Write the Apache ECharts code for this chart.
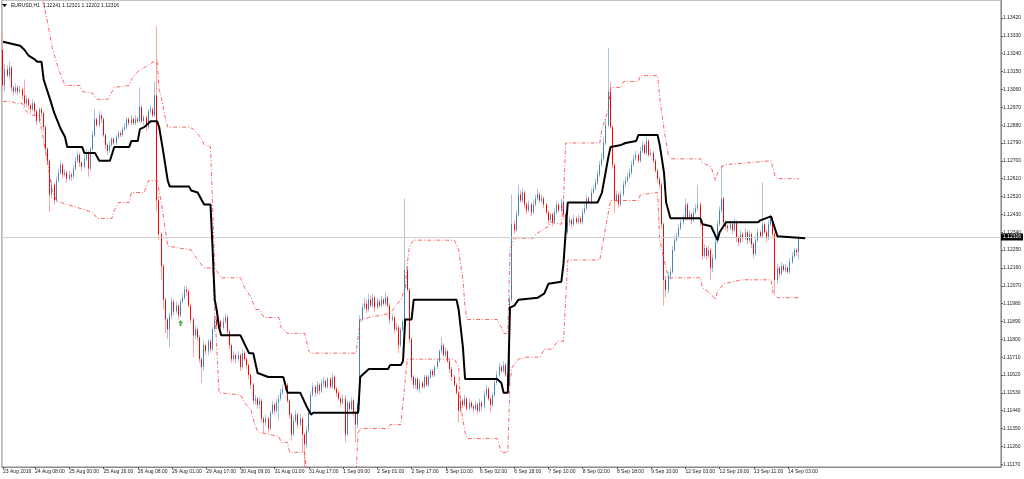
<!DOCTYPE html>
<html><head><meta charset="utf-8">
<script src="https://cdn.jsdelivr.net/npm/echarts@6/dist/echarts.min.js"></script>
<style>html,body{margin:0;padding:0;background:#fff}#c{width:1024px;height:479px}</style>
</head><body><div id="c"></div>
<script>
// ---- EURUSD H1 candles ----
const opens=[
1.1326,1.1308,1.1316,1.1313,1.1317,1.1307,1.1305,1.1307,1.1305,1.1306,
1.1303,1.1299,1.1301,1.1298,1.1296,1.1299,1.1295,1.1290,1.1296,1.1294,
1.1287,1.1276,1.1270,1.1253,1.1258,1.1250,1.1260,1.1264,1.1268,1.1263,
1.1264,1.1261,1.1263,1.1262,1.1266,1.1270,1.1273,1.1269,1.1267,1.1271,
1.1274,1.1266,1.1276,1.1283,1.1291,1.1288,1.1293,1.1291,1.1283,1.1278,
1.1275,1.1278,1.1281,1.1279,1.1282,1.1284,1.1283,1.1286,1.1287,1.1291,
1.1289,1.1291,1.1289,1.1291,1.1290,1.1297,1.1290,1.1292,1.1287,1.1295,
1.1296,1.1293,1.1303,1.1250,1.1233,1.1217,1.1200,1.1190,1.1185,1.1192,
1.1199,1.1194,1.1197,1.1192,1.1199,1.1201,1.1205,1.1204,1.1197,1.1190,
1.1182,1.1185,1.1181,1.1170,1.1166,1.1177,1.1174,1.1179,1.1175,1.1185,
1.1190,1.1187,1.1189,1.1186,1.1189,1.1191,1.1184,1.1177,1.1170,1.1172,
1.1170,1.1172,1.1166,1.1173,1.1170,1.1167,1.1162,1.1157,1.1149,1.1150,
1.1147,1.1149,1.1140,1.1138,1.1140,1.1135,1.1143,1.1147,1.1144,1.1148,
1.1150,1.1153,1.1155,1.1157,1.1149,1.1142,1.1132,1.1139,1.1142,1.1137,
1.1140,1.1132,1.1127,1.1134,1.1143,1.1152,1.1156,1.1153,1.1157,1.1154,
1.1158,1.1159,1.1156,1.1160,1.1156,1.1161,1.1155,1.1153,1.1150,1.1148,
1.1150,1.1132,1.1148,1.1145,1.1149,1.1143,1.1137,1.1147,1.1190,1.1196,
1.1198,1.1195,1.1200,1.1197,1.1201,1.1196,1.1199,1.1197,1.1200,1.1198,
1.1201,1.1197,1.1190,1.1191,1.1185,1.1186,1.1177,1.1185,1.1189,1.1215,
1.1205,1.1180,1.1161,1.1157,1.1160,1.1155,1.1158,1.1156,1.1161,1.1157,
1.1161,1.1164,1.1162,1.1166,1.1169,1.1174,1.1177,1.1172,1.1174,1.1169,
1.1165,1.1161,1.1157,1.1153,1.1144,1.1149,1.1147,1.1150,1.1145,1.1148,
1.1146,1.1145,1.1147,1.1144,1.1148,1.1146,1.1152,1.1155,1.1150,1.1147,
1.1152,1.1158,1.1162,1.1166,1.1164,1.1167,1.1162,1.1157,1.1200,1.1238,
1.1235,1.1243,1.1253,1.1250,1.1254,1.1248,1.1245,1.1248,1.1244,1.1248,
1.1251,1.1253,1.1250,1.1251,1.1248,1.1244,1.1240,1.1243,1.1239,1.1244,
1.1248,1.1245,1.1249,1.1243,1.1234,1.1239,1.1240,1.1238,1.1241,1.1239,
1.1241,1.1239,1.1244,1.1246,1.1251,1.1249,1.1254,1.1256,1.1259,1.1263,
1.1268,1.1271,1.1279,1.1288,1.1305,1.1287,1.1268,1.1250,1.1253,1.1248,
1.1253,1.1258,1.1260,1.1262,1.1264,1.1268,1.1271,1.1273,1.1270,1.1275,
1.1278,1.1274,1.1280,1.1273,1.1274,1.1270,1.1265,1.1261,1.1258,1.1238,
1.1210,1.1205,1.1212,1.1214,1.1225,1.1230,1.1232,1.1236,1.1239,1.1241,
1.1248,1.1241,1.1243,1.1240,1.1244,1.1246,1.1248,1.1239,1.1222,1.1226,
1.1222,1.1225,1.1216,1.1221,1.1229,1.1238,1.1245,1.1251,1.1239,1.1237,
1.1236,1.1238,1.1235,1.1239,1.1231,1.1229,1.1233,1.1231,1.1234,1.1230,
1.1233,1.1228,1.1223,1.1230,1.1234,1.1232,1.1238,1.1234,1.1231,1.1238,
1.1241,1.1233,1.1210,1.1216,1.1213,1.1217,1.1215,1.1216,1.1214,1.1219,
1.1222,1.1225,1.12241];
const closes=[
1.1308,1.1316,1.1313,1.1317,1.1307,1.1305,1.1307,1.1305,1.1306,1.1303,
1.1299,1.1301,1.1298,1.1296,1.1299,1.1295,1.1290,1.1296,1.1294,1.1287,
1.1276,1.1270,1.1253,1.1258,1.1250,1.1260,1.1264,1.1268,1.1263,1.1264,
1.1261,1.1263,1.1262,1.1266,1.1270,1.1273,1.1269,1.1267,1.1271,1.1274,
1.1266,1.1276,1.1283,1.1291,1.1288,1.1293,1.1291,1.1283,1.1278,1.1275,
1.1278,1.1281,1.1279,1.1282,1.1284,1.1283,1.1286,1.1287,1.1291,1.1289,
1.1291,1.1289,1.1291,1.1290,1.1297,1.1290,1.1292,1.1287,1.1295,1.1296,
1.1293,1.1303,1.1250,1.1233,1.1217,1.1200,1.1190,1.1185,1.1192,1.1199,
1.1194,1.1197,1.1192,1.1199,1.1201,1.1205,1.1204,1.1197,1.1190,1.1182,
1.1185,1.1181,1.1170,1.1166,1.1177,1.1174,1.1179,1.1175,1.1185,1.1190,
1.1187,1.1189,1.1186,1.1189,1.1191,1.1184,1.1177,1.1170,1.1172,1.1170,
1.1172,1.1166,1.1173,1.1170,1.1167,1.1162,1.1157,1.1149,1.1150,1.1147,
1.1149,1.1140,1.1138,1.1140,1.1135,1.1143,1.1147,1.1144,1.1148,1.1150,
1.1153,1.1155,1.1157,1.1149,1.1142,1.1132,1.1139,1.1142,1.1137,1.1140,
1.1132,1.1127,1.1134,1.1143,1.1152,1.1156,1.1153,1.1157,1.1154,1.1158,
1.1159,1.1156,1.1160,1.1156,1.1161,1.1155,1.1153,1.1150,1.1148,1.1150,
1.1132,1.1148,1.1145,1.1149,1.1143,1.1137,1.1147,1.1190,1.1196,1.1198,
1.1195,1.1200,1.1197,1.1201,1.1196,1.1199,1.1197,1.1200,1.1198,1.1201,
1.1197,1.1190,1.1191,1.1185,1.1186,1.1177,1.1185,1.1189,1.1215,1.1205,
1.1180,1.1161,1.1157,1.1160,1.1155,1.1158,1.1156,1.1161,1.1157,1.1161,
1.1164,1.1162,1.1166,1.1169,1.1174,1.1177,1.1172,1.1174,1.1169,1.1165,
1.1161,1.1157,1.1153,1.1144,1.1149,1.1147,1.1150,1.1145,1.1148,1.1146,
1.1145,1.1147,1.1144,1.1148,1.1146,1.1152,1.1155,1.1150,1.1147,1.1152,
1.1158,1.1162,1.1166,1.1164,1.1167,1.1162,1.1157,1.1200,1.1238,1.1235,
1.1243,1.1253,1.1250,1.1254,1.1248,1.1245,1.1248,1.1244,1.1248,1.1251,
1.1253,1.1250,1.1251,1.1248,1.1244,1.1240,1.1243,1.1239,1.1244,1.1248,
1.1245,1.1249,1.1243,1.1234,1.1239,1.1240,1.1238,1.1241,1.1239,1.1241,
1.1239,1.1244,1.1246,1.1251,1.1249,1.1254,1.1256,1.1259,1.1263,1.1268,
1.1271,1.1279,1.1288,1.1305,1.1287,1.1268,1.1250,1.1253,1.1248,1.1253,
1.1258,1.1260,1.1262,1.1264,1.1268,1.1271,1.1273,1.1270,1.1275,1.1278,
1.1274,1.1280,1.1273,1.1274,1.1270,1.1265,1.1261,1.1258,1.1238,1.1210,
1.1205,1.1212,1.1214,1.1225,1.1230,1.1232,1.1236,1.1239,1.1241,1.1248,
1.1241,1.1243,1.1240,1.1244,1.1246,1.1248,1.1239,1.1222,1.1226,1.1222,
1.1225,1.1216,1.1221,1.1229,1.1238,1.1245,1.1251,1.1239,1.1237,1.1236,
1.1238,1.1235,1.1239,1.1231,1.1229,1.1233,1.1231,1.1234,1.1230,1.1233,
1.1228,1.1223,1.1230,1.1234,1.1232,1.1238,1.1234,1.1231,1.1238,1.1241,
1.1233,1.1210,1.1216,1.1213,1.1217,1.1215,1.1216,1.1214,1.1219,1.1222,
1.1225,1.1224,1.12316];
const highs=[
1.1336,1.1319,1.1318,1.1320,1.1318,1.1308,1.1309,1.1308,1.1308,1.1307,
1.1311,1.1303,1.1302,1.1299,1.1301,1.1300,1.1296,1.1297,1.1297,1.1295,
1.1288,1.1277,1.1271,1.1260,1.1259,1.1262,1.1266,1.1270,1.1269,1.1266,
1.1265,1.1265,1.1264,1.1268,1.1272,1.1275,1.1274,1.1270,1.1273,1.1276,
1.1275,1.1277,1.1285,1.1296,1.1292,1.1295,1.1294,1.1292,1.1284,1.1279,
1.1280,1.1282,1.1282,1.1283,1.1285,1.1285,1.1287,1.1289,1.1292,1.1292,
1.1293,1.1292,1.1293,1.1292,1.1307,1.1298,1.1293,1.1293,1.1296,1.1298,
1.1297,1.1310,1.1338,1.1252,1.1234,1.1218,1.1201,1.1191,1.1193,1.1201,
1.1200,1.1199,1.1198,1.1200,1.1203,1.1207,1.1207,1.1205,1.1198,1.1191,
1.1187,1.1186,1.1182,1.1171,1.1179,1.1178,1.1180,1.1180,1.1186,1.1192,
1.1191,1.1191,1.1190,1.1191,1.1193,1.1192,1.1185,1.1178,1.1174,1.1173,
1.1174,1.1173,1.1175,1.1174,1.1171,1.1168,1.1163,1.1158,1.1152,1.1151,
1.1151,1.1150,1.1141,1.1142,1.1141,1.1144,1.1149,1.1148,1.1150,1.1152,
1.1155,1.1157,1.1159,1.1158,1.1150,1.1143,1.1141,1.1144,1.1143,1.1142,
1.1141,1.1133,1.1136,1.1145,1.1154,1.1158,1.1157,1.1159,1.1158,1.1160,
1.1161,1.1160,1.1161,1.1161,1.1163,1.1162,1.1156,1.1154,1.1151,1.1152,
1.1152,1.1149,1.1149,1.1151,1.1150,1.1144,1.1148,1.1192,1.1198,1.1201,
1.1200,1.1203,1.1202,1.1203,1.1202,1.1201,1.1200,1.1202,1.1201,1.1204,
1.1202,1.1198,1.1193,1.1192,1.1188,1.1187,1.1186,1.1190,1.1251,1.1217,
1.1206,1.1181,1.1162,1.1161,1.1161,1.1160,1.1159,1.1162,1.1162,1.1162,
1.1165,1.1165,1.1167,1.1170,1.1175,1.1181,1.1178,1.1176,1.1175,1.1170,
1.1166,1.1162,1.1158,1.1154,1.1151,1.1150,1.1152,1.1151,1.1150,1.1149,
1.1147,1.1149,1.1148,1.1150,1.1149,1.1154,1.1157,1.1156,1.1151,1.1153,
1.1160,1.1164,1.1168,1.1167,1.1169,1.1168,1.1163,1.1202,1.1253,1.1240,
1.1245,1.1258,1.1255,1.1256,1.1255,1.1249,1.1250,1.1249,1.1250,1.1253,
1.1256,1.1254,1.1253,1.1252,1.1249,1.1245,1.1244,1.1244,1.1246,1.1250,
1.1249,1.1251,1.1250,1.1244,1.1241,1.1242,1.1241,1.1243,1.1242,1.1243,
1.1242,1.1246,1.1248,1.1253,1.1252,1.1256,1.1258,1.1261,1.1265,1.1270,
1.1274,1.1282,1.1291,1.1327,1.1310,1.1288,1.1269,1.1255,1.1254,1.1255,
1.1260,1.1262,1.1264,1.1266,1.1270,1.1273,1.1275,1.1274,1.1277,1.1280,
1.1279,1.1282,1.1281,1.1276,1.1275,1.1271,1.1266,1.1262,1.1259,1.1239,
1.1212,1.1214,1.1216,1.1227,1.1232,1.1234,1.1238,1.1241,1.1243,1.1251,
1.1249,1.1245,1.1244,1.1246,1.1248,1.1258,1.1249,1.1240,1.1228,1.1227,
1.1227,1.1226,1.1223,1.1231,1.1240,1.1247,1.1268,1.1252,1.1240,1.1238,
1.1240,1.1239,1.1241,1.1240,1.1232,1.1235,1.1234,1.1236,1.1235,1.1235,
1.1234,1.1229,1.1232,1.1236,1.1235,1.1259,1.1239,1.1235,1.1240,1.1243,
1.1242,1.1234,1.1218,1.1217,1.1219,1.1218,1.1218,1.1217,1.1221,1.1224,
1.1226,1.1226,1.12321];
const lows=[
1.1306,1.1305,1.1312,1.1311,1.1305,1.1303,1.1304,1.1303,1.1304,1.1301,
1.1297,1.1297,1.1296,1.1294,1.1295,1.1293,1.1288,1.1289,1.1292,1.1285,
1.1274,1.1268,1.1244,1.1251,1.1248,1.1249,1.1259,1.1263,1.1261,1.1262,
1.1259,1.1260,1.1260,1.1261,1.1265,1.1269,1.1267,1.1265,1.1266,1.1270,
1.1262,1.1265,1.1275,1.1282,1.1287,1.1287,1.1289,1.1282,1.1276,1.1273,
1.1274,1.1277,1.1278,1.1278,1.1281,1.1282,1.1282,1.1285,1.1286,1.1288,
1.1288,1.1288,1.1288,1.1289,1.1289,1.1289,1.1288,1.1285,1.1286,1.1294,
1.1292,1.1292,1.1245,1.1230,1.1210,1.1195,1.1183,1.1180,1.1176,1.1190,
1.1192,1.1193,1.1190,1.1191,1.1198,1.1200,1.1202,1.1196,1.1188,1.1171,
1.1180,1.1179,1.1168,1.1158,1.1164,1.1172,1.1172,1.1173,1.1174,1.1184,
1.1185,1.1186,1.1184,1.1185,1.1188,1.1182,1.1175,1.1168,1.1169,1.1168,
1.1169,1.1164,1.1165,1.1169,1.1165,1.1160,1.1155,1.1147,1.1147,1.1145,
1.1145,1.1138,1.1133,1.1136,1.1133,1.1134,1.1142,1.1142,1.1143,1.1139,
1.1149,1.1152,1.1154,1.1148,1.1140,1.1129,1.1131,1.1138,1.1135,1.1136,
1.1123,1.1116,1.1125,1.1133,1.1142,1.1151,1.1151,1.1152,1.1152,1.1153,
1.1156,1.1155,1.1155,1.1155,1.1155,1.1154,1.1151,1.1149,1.1146,1.1147,
1.1128,1.1131,1.1144,1.1144,1.1141,1.1128,1.1135,1.1144,1.1189,1.1195,
1.1193,1.1194,1.1196,1.1196,1.1194,1.1195,1.1196,1.1196,1.1197,1.1197,
1.1196,1.1188,1.1189,1.1183,1.1184,1.1173,1.1176,1.1184,1.1188,1.1204,
1.1178,1.1159,1.1155,1.1155,1.1154,1.1153,1.1155,1.1155,1.1156,1.1156,
1.1160,1.1161,1.1161,1.1165,1.1168,1.1173,1.1171,1.1171,1.1168,1.1163,
1.1159,1.1156,1.1152,1.1138,1.1143,1.1145,1.1146,1.1144,1.1144,1.1145,
1.1143,1.1144,1.1142,1.1143,1.1144,1.1145,1.1151,1.1149,1.1143,1.1146,
1.1151,1.1157,1.1161,1.1163,1.1163,1.1161,1.1153,1.1156,1.1199,1.1233,
1.1234,1.1242,1.1249,1.1249,1.1246,1.1243,1.1244,1.1242,1.1243,1.1247,
1.1250,1.1249,1.1249,1.1246,1.1243,1.1238,1.1239,1.1237,1.1238,1.1243,
1.1244,1.1244,1.1241,1.1229,1.1233,1.1237,1.1236,1.1237,1.1238,1.1238,
1.1238,1.1238,1.1243,1.1245,1.1248,1.1248,1.1253,1.1255,1.1258,1.1262,
1.1267,1.1270,1.1278,1.1287,1.1286,1.1266,1.1244,1.1249,1.1246,1.1247,
1.1252,1.1257,1.1259,1.1261,1.1263,1.1267,1.1270,1.1269,1.1269,1.1274,
1.1273,1.1273,1.1272,1.1272,1.1269,1.1264,1.1259,1.1256,1.1236,1.1197,
1.1201,1.1203,1.1210,1.1213,1.1224,1.1229,1.1231,1.1235,1.1238,1.1240,
1.1240,1.1240,1.1238,1.1239,1.1243,1.1245,1.1237,1.1220,1.1221,1.1220,
1.1221,1.1210,1.1214,1.1220,1.1228,1.1237,1.1244,1.1238,1.1235,1.1234,
1.1235,1.1233,1.1234,1.1229,1.1227,1.1228,1.1229,1.1230,1.1228,1.1229,
1.1226,1.1221,1.1222,1.1229,1.1231,1.1231,1.1233,1.1229,1.1230,1.1237,
1.1231,1.1203,1.1208,1.1211,1.1212,1.1214,1.1214,1.1213,1.1213,1.1218,
1.1221,1.1222,1.12202];

// ---- indicator lines: [bar index, price] vertices ----
const midLine=[[0,1.1330],[8,1.1328],[10,1.1326],[12,1.1323],[15,1.1321],[16,1.1320],[18,1.1320],[19,1.1311],[22,1.1301],[24,1.1294],
[27,1.1286],[29,1.1282],[30,1.1277],[37,1.1277],[38,1.1274],[43,1.1274],[45,1.1270],[50,1.1270],[52,1.1277],[59,1.1277],
[60,1.1280],[63,1.1280],[64,1.1286],[66,1.1287],[69,1.1290],[72,1.1290],[73,1.1287],[75,1.1274],[77,1.1260],[78,1.1257],
[87,1.1257],[88,1.1255],[91,1.1254],[94,1.1248],[97,1.1248],[98,1.1225],[99,1.1200],[100,1.1194],[101,1.1186],[102,1.1182],
[111,1.1182],[115,1.1173],[117,1.1173],[119,1.1163],[124,1.1161],[131,1.1161],[133,1.1153],[139,1.1153],[142,1.1146],[144,1.1142],
[145,1.1143],[166,1.1143],[167,1.1161],[171,1.1165],[180,1.1165],[181,1.1167],[186,1.1167],[187,1.1169],[188,1.1190],[191,1.1190],
[192,1.1200],[212,1.1200],[213,1.1195],[215,1.1176],[216,1.1160],[231,1.1160],[233,1.1158],[234,1.1153],[236,1.1153],[237,1.1196],
[239,1.1197],[241,1.1200],[250,1.1201],[253,1.1203],[255,1.1208],[261,1.1209],[262,1.1218],[264,1.1249],[265,1.1249],[278,1.1249],
[280,1.1254],[283,1.1272],[284,1.1277],[289,1.1278],[291,1.1279],[296,1.1280],[297,1.1283],[306,1.1283],[307,1.1278],[309,1.1264],
[310,1.1249],[312,1.1241],[326,1.1241],[327,1.1238],[331,1.1237],[334,1.1230],[335,1.1234],[338,1.1239],[353,1.1239],[354,1.1240],
[359,1.1242],[362,1.1232],[375,1.1231]];
const upperBand=[[16,1.1359],[19,1.1349],[21,1.1339],[23,1.1327],[26,1.1316],[29,1.1308],[31,1.1308],[36,1.1308],[37,1.1305],[42,1.1304],
[44,1.1301],[49,1.1301],[52,1.1307],[59,1.1308],[60,1.1311],[63,1.1315],[66,1.1317],[72,1.1321],[73,1.1306],[74,1.1302],
[76,1.1291],[77,1.1287],[87,1.1287],[89,1.1286],[93,1.1281],[94,1.1278],[97,1.1277],[99,1.1216],[102,1.1211],[111,1.1211],
[113,1.1206],[116,1.1201],[118,1.1195],[120,1.1195],[122,1.1191],[129,1.1191],[130,1.1186],[133,1.1183],[141,1.1183],[143,1.1174],
[144,1.1173],[165,1.1173],[166,1.1181],[167,1.1190],[171,1.1191],[181,1.1193],[183,1.1196],[186,1.1200],[188,1.1206],[189,1.1218],
[190,1.1227],[192,1.1230],[211,1.1230],[213,1.1225],[215,1.1210],[216,1.1196],[217,1.1190],[231,1.1190],[233,1.1186],[234,1.1183],
[236,1.1183],[237,1.1225],[239,1.1231],[248,1.1231],[249,1.1233],[255,1.1237],[256,1.1239],[261,1.1238],[262,1.1249],[263,1.1279],
[279,1.1279],[280,1.1286],[283,1.1296],[284,1.1307],[289,1.1307],[290,1.1310],[297,1.1310],[298,1.1313],[306,1.1313],[307,1.1302],
[309,1.1286],[311,1.1273],[312,1.1271],[326,1.1271],[327,1.1269],[331,1.1267],[333,1.1260],[334,1.1264],[337,1.1268],[359,1.1270],
[361,1.1262],[362,1.1261],[372,1.1261]];
const lowerBand=[[0,1.1300],[4,1.1300],[6,1.1299],[9,1.1299],[10,1.1296],[12,1.1294],[13,1.1293],[17,1.1293],[18,1.1286],[21,1.1268],
[23,1.1255],[25,1.1250],[27,1.1249],[42,1.1244],[44,1.1241],[51,1.1241],[52,1.1245],[54,1.1249],[59,1.1249],[60,1.1254],
[66,1.1254],[68,1.1260],[72,1.1260],[74,1.1249],[77,1.1227],[88,1.1225],[91,1.1220],[94,1.1216],[98,1.1216],[101,1.1153],
[111,1.1152],[113,1.1148],[116,1.1144],[118,1.1136],[119,1.1134],[120,1.1133],[129,1.1131],[130,1.1128],[133,1.1128],[134,1.1123],
[141,1.1123],[142,1.1111],[165,1.1111],[166,1.1133],[167,1.1135],[180,1.1135],[181,1.1137],[186,1.1137],[188,1.1159],[189,1.1170],
[192,1.1170],[211,1.1170],[213,1.1166],[214,1.1146],[216,1.1133],[217,1.1130],[231,1.1130],[233,1.1123],[236,1.1123],[237,1.1159],
[238,1.1166],[241,1.1170],[245,1.1171],[251,1.1171],[253,1.1175],[257,1.1175],[259,1.1179],[262,1.1179],[264,1.1220],[279,1.1220],
[282,1.1238],[284,1.1250],[297,1.1250],[298,1.1253],[306,1.1254],[307,1.1230],[311,1.1211],[326,1.1211],[327,1.1206],[331,1.1203],
[333,1.1200],[334,1.1204],[337,1.1208],[345,1.1210],[359,1.1210],[360,1.1203],[362,1.1201],[372,1.1201]];
const signalUp=[[83,1.11882]];
const lastPrice=1.12316;

// ---- axes text ----
const tickBars=[0,15,31,47,63,79,95,111,127,143,159,175,191,207,223,239,255,271,287,303,319,335,351,367];
const tickLabels=["23 Aug 2016","24 Aug 08:00","25 Aug 00:00","25 Aug 16:00","26 Aug 08:00","29 Aug 01:00","29 Aug 17:00","30 Aug 09:00","31 Aug 01:00","31 Aug 17:00","1 Sep 09:00","2 Sep 01:00","2 Sep 17:00","5 Sep 10:00","6 Sep 02:00","6 Sep 18:00","7 Sep 10:00","8 Sep 02:00","8 Sep 18:00","9 Sep 10:00","12 Sep 03:00","12 Sep 19:00","13 Sep 11:00","14 Sep 03:00"];
const yTicks=[1.11170,1.11260,1.11350,1.11440,1.11530,1.11620,1.11710,1.11800,1.11890,1.11980,1.12070,1.12160,1.12250,1.12340,1.12430,1.12520,1.12610,1.12700,1.12790,1.12880,1.12970,1.13060,1.13150,1.13240,1.13330,1.13420];
const titleText="EURUSD,H1  1.12241 1.12321 1.12202 1.12316";
const TOTAL_SLOTS=467;

const cats=[];for(let i=0;i<TOTAL_SLOTS;i++)cats.push(String(i));
const full=opens.map((o,i)=>[o,closes[i],lows[i],highs[i]]);
const bodies=opens.map((o,i)=>[o,closes[i],Math.min(o,closes[i]),Math.max(o,closes[i])]);
const labelMap={};tickBars.forEach((b,k)=>{labelMap[b]=tickLabels[k];});
const FONT='Liberation Sans';

const chart=echarts.init(document.getElementById('c'),null,{renderer:'canvas'});
chart.setOption({
  animation:false,
  backgroundColor:'#ffffff',
  grid:{left:0,right:23,top:0,bottom:12,show:true,borderColor:'#8a8a8a',borderWidth:1,backgroundColor:'#fff'},
  xAxis:{type:'category',data:cats,boundaryGap:true,
    axisLine:{show:true,lineStyle:{color:'#8a8a8a',width:1}},
    axisTick:{show:true,alignWithLabel:true,length:2,interval:(i)=>labelMap[i]!==undefined,lineStyle:{color:'#555'}},
    axisLabel:{show:true,interval:(i)=>labelMap[i]!==undefined,formatter:(v,i)=>labelMap[i]||'',align:'left',fontSize:5,color:'#222',margin:2,fontFamily:FONT},
    splitLine:{show:false}},
  yAxis:{type:'value',position:'right',min:1.11156,max:1.13511,
    axisLine:{show:true,lineStyle:{color:'#8a8a8a',width:1}},
    axisTick:{show:true,length:2,customValues:yTicks,lineStyle:{color:'#555'}},
    axisLabel:{show:true,customValues:yTicks,formatter:(v)=>v.toFixed(5),fontSize:5,color:'#222',margin:2,fontFamily:FONT},
    splitLine:{show:false}},
  graphic:[
    {type:'polygon',shape:{points:[[2,4],[7,4],[4.5,7]]},style:{fill:'#000'}},
    {type:'text',left:11,top:3,style:{text:titleText,fontSize:5,fill:'#111',fontFamily:FONT}}
  ],
  series:[
    {type:'candlestick',data:full,barWidth:1,z:2,silent:true,
      itemStyle:{color:'#a9c5e2',color0:'#ffa3a3',borderColor:'#a9c5e2',borderColor0:'#ffa3a3',borderWidth:1},
      markLine:{silent:true,symbol:['none','none'],animation:false,precision:5,
        data:[{yAxis:lastPrice}],
        lineStyle:{color:'#cfcfcf',type:'solid',width:1},
        label:{show:true,position:'end',distance:0,formatter:lastPrice.toFixed(5),backgroundColor:'#000',color:'#fff',fontSize:5,padding:[1,2,1,2],fontFamily:FONT}}},
    {type:'candlestick',data:bodies,barWidth:1,z:3,silent:true,
      itemStyle:{color:'#4682b4',color0:'#ff0000',borderColor:'#4682b4',borderColor0:'#ff0000',borderWidth:1}},
    {type:'line',data:upperBand,symbol:'none',z:4,silent:true,
      lineStyle:{color:'#ff3030',width:1,opacity:0.75,type:[4,2,1,2]}},
    {type:'line',data:lowerBand,symbol:'none',z:4,silent:true,
      lineStyle:{color:'#ff3030',width:1,opacity:0.75,type:[4,2,1,2]}},
    {type:'line',data:midLine,symbol:'none',z:5,silent:true,
      lineStyle:{color:'#000',width:2}},
    {type:'scatter',data:signalUp,z:6,silent:true,
      symbol:'path://M5,0 L10,5 L7,5 L7,10 L3,10 L3,5 L0,5 Z',symbolSize:[5,6],
      itemStyle:{color:'#1f9a1f'}}
  ]
});
</script></body></html>
